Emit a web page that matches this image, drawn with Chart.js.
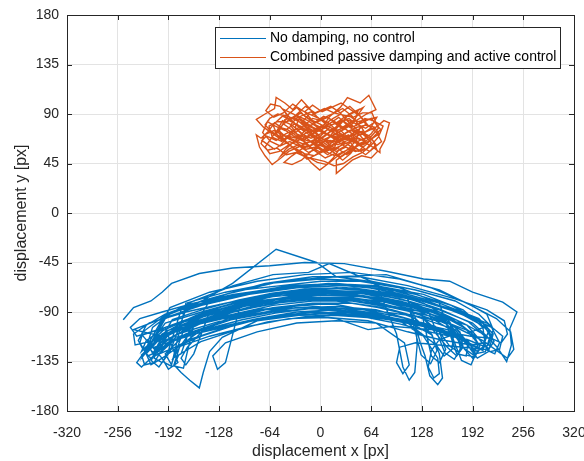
<!DOCTYPE html>
<html>
<head>
<meta charset="utf-8">
<script src="https://cdn.jsdelivr.net/npm/chart.js@4"></script>
<style>
  html, body { margin: 0; padding: 0; background: #fff; }
  #wrap { width: 584px; height: 461px; }
</style>
</head>
<body>
<div id="wrap"><canvas id="c" width="584" height="461"></canvas></div>
<script>
// tick labels
const xTicks = [-320, -256, -192, -128, -64, 0, 64, 128, 192, 256, 320];
const yTicks = [-180, -135, -90, -45, 0, 45, 90, 135, 180];

const seriesNames = ["No damping, no control", "Combined passive damping and active control"];
const seriesColors = ["#0072BD", "#D95319"];

// blue trajectory as [x, y]
const bluePoints = [
  [-249,-97],[-236,-86],[-214,-80],[-200,-72],[-188,-64],[-153,-55],[-111,-50],[-64,-48],[-20,-45],[30,-46],[83,-53],[130,-60],[163,-62],[192,-72],[230,-81],[248,-90],[239,-105],[241,-120],[235,-135],[223,-122],[210,-112],
  [180,-100],[150,-90],[100,-80],[40,-74],[-20,-75],[-80,-80],[-128,-88],[-170,-98],[-200,-110],[-215,-122],[-226,-129],[-222,-138],[-210,-136],[-200,-124],
  [-185,-112],[-150,-100],[-110,-94],[-60,-86],[-10,-82],[40,-82],[90,-88],[120,-96],[140,-110],[150,-128],[154,-150],[148,-156],[138,-148],[132,-130],[126,-118],
  [110,-78],[60,-62],[20,-58],[-5,-45],[-56,-33],[-111,-64],[-150,-80],[-190,-92],[-212,-104],[-218,-118],[-208,-124],
  [-196,-112],[-176,-100],[-128,-86],[-64,-74],[0,-70],[64,-72],[128,-80],[172,-90],[205,-100],[214,-112],[208,-126],[196,-128],[186,-116],
  [160,-106],[110,-98],[50,-92],[-27,-93],[-80,-98],[-124,-113],[-140,-126],[-148,-145],[-153,-159],[-165,-152],[-176,-145],[-185,-138],[-178,-122],[-166,-110],
  [-140,-80],[-96,-73],[-40,-66],[20,-64],[80,-68],[110,-78],[120,-96],[122,-120],[119,-145],[112,-152],[104,-140],[100,-125],[96,-110],
  [70,-64],[11,-46],[-15,-54],[-60,-56],[-110,-66],[-160,-80],[-200,-95],[-224,-108],[-228,-118],[-218,-130],[-206,-126],
  [-190,-108],[-150,-98],[-100,-88],[-40,-80],[20,-77],[80,-80],[140,-90],[175,-100],[195,-112],[200,-125],[192,-132],[182,-124],
  [150,-92],[90,-80],[30,-74],[-30,-75],[-90,-82],[-140,-92],[-185,-106],[-204,-120],[-210,-132],[-200,-136],[-190,-126],
  [-170,-88],[-130,-76],[-70,-64],[-10,-58],[50,-58],[110,-66],[170,-78],[210,-88],[232,-98],[236,-110],[228,-118],[216,-114],
  [190,-112],[140,-106],[90,-103],[60,-106],[20,-96],[-40,-92],[-100,-100],[-150,-112],[-190,-124],[-210,-130],[-216,-122],
  [-196,-96],[-120,-74],[-50,-62],[20,-58],[83,-56],[140,-68],[185,-82],[210,-92],[218,-106],[212,-120],[200,-124],
  [170,-110],[150,-115],[140,-125],[136,-140],[143,-150],[150,-146],[148,-132],[130,-112],[100,-98],[40,-88],[-20,-84],[-80,-88],[-140,-98],[-200,-112],
  [-236,-106],[-200,-96],[-150,-84],[-90,-74],[-30,-68],[30,-66],[90,-70],[150,-82],[200,-96],[218,-110],[212,-126],[198,-132],
  [170,-106],[120,-94],[60,-88],[0,-86],[-60,-90],[-120,-98],[-170,-110],[-196,-120],[-214,-132],[-226,-140],[-232,-136],[-220,-124],
  [-196,-100],[-150,-90],[-100,-80],[-40,-72],[20,-68],[80,-72],[130,-82],[160,-94],[168,-110],[166,-124],[156,-130],[146,-120],
  [110,-100],[70,-94],[30,-90],[-20,-86],[-70,-88],[-118,-96],[-150,-108],[-168,-122],[-176,-132],[-170,-138],[-160,-128],
  [-140,-90],[-80,-78],[-20,-70],[40,-68],[100,-74],[160,-86],[210,-100],[230,-112],[226,-124],[214,-126],
  [185,-102],[130,-90],[70,-82],[10,-78],[-50,-80],[-110,-86],[-170,-98],[-214,-108],[-232,-112],[-240,-104],[-228,-96],
  [-200,-90],[-160,-82],[-110,-74],[-50,-68],[10,-64],[70,-66],[130,-74],[180,-88],[205,-104],[208,-120],[198,-126],
  [175,-112],[130,-100],[80,-94],[20,-88],[-40,-86],[-100,-94],[-150,-106],[-176,-120],[-186,-132],[-176,-128],
  [-160,-96],[-110,-84],[-60,-76],[0,-72],[60,-72],[110,-80],[150,-92],[176,-108],[180,-122],[172,-130],[160,-122],
  [130,-96],[80,-86],[20,-80],[-40,-78],[-100,-82],[-150,-92],[-196,-104],[-220,-116],[-226,-126],[-214,-118],
  [-190,-86],[-140,-72],[-80,-62],[-20,-56],[40,-54],[100,-60],[150,-70],[190,-84],[222,-96],[240,-108],[244,-124],[236,-132],
  [205,-116],[160,-100],[110,-92],[60,-84],[0,-78],[-60,-82],[-110,-90],[-160,-102],[-196,-116],[-204,-126],
  [-210,-122],[-160,-110],[-110,-102],[-60,-94],[-10,-90],[40,-91],[90,-96],[140,-104],[180,-116],[196,-128],[190,-138],[178,-134],
  [165,-110],[120,-98],[70,-88],[20,-85],[-30,-86],[-80,-92],[-130,-99],[-180,-110],[-206,-122],[-214,-134],[-204,-140],[-194,-130],
  [-176,-88],[-128,-79],[-80,-72],[-30,-66],[20,-65],[70,-67],[120,-74],[165,-84],[196,-96],[212,-108],[206,-118],
  [190,-120],[150,-115],[110,-108],[60,-98],[10,-95],[-40,-96],[-90,-103],[-140,-112],[-180,-122],[-200,-132],[-192,-142],[-180,-136],
  [-196,-104],[-150,-94],[-100,-84],[-50,-78],[0,-75],[50,-76],[100,-82],[140,-92],[170,-104],[186,-118],[184,-130],[172,-128],
  [150,-82],[100,-68],[50,-62],[0,-62],[-50,-66],[-100,-70],[-150,-80],[-196,-92],[-220,-102],[-230,-116],[-224,-124],
  [-204,-112],[-160,-102],[-110,-94],[-60,-86],[-10,-82],[40,-82],[90,-88],[130,-96],[150,-108],[158,-124],[150,-136],[140,-130],
  [128,-92],[80,-84],[30,-78],[-20,-79],[-70,-82],[-120,-92],[-170,-104],[-210,-116],[-234,-120],[-236,-110],
  [-216,-100],[-170,-90],[-120,-82],[-70,-75],[-20,-69],[30,-68],[80,-72],[130,-80],[180,-92],[216,-104],[226,-118],[220,-128],[208,-124],
  [180,-122],[150,-120],[120,-118],[100,-122],[96,-136],[104,-146],[112,-138],[106,-118],[70,-100],[20,-98],[-30,-100],[-80,-108],[-120,-118],[-136,-130],[-130,-142],[-120,-136],
  [-100,-80],[-50,-74],[0,-72],[50,-72],[100,-78],[150,-88],[192,-100],[210,-112],[204,-124],
  [170,-112],[120,-100],[70,-92],[20,-88],[-30,-90],[-80,-96],[-130,-104],[-176,-114],[-196,-128],[-188,-138],
  [-170,-82],[-120,-72],[-64,-64],[0,-60],[64,-62],[120,-70],[170,-80],[200,-92],[214,-102],
  [190,-108],[140,-94],[90,-86],[40,-80],[-10,-80],[-60,-84],[-110,-92],[-160,-100],[-200,-112],[-220,-128],[-214,-138],[-200,-132],
  [-225,-111],[-183,-101],[-141,-93],[-99,-85],[-57,-79],[-15,-75],[27,-75],[69,-77],[111,-83],[153,-93],[183,-105],[199,-119],[193,-129],[181,-123],
  [163,-99],[121,-87],[79,-79],[37,-73],[-5,-71],[-47,-73],[-89,-79],[-131,-89],[-173,-101],[-207,-115],[-221,-127],[-213,-133],
  [-193,-107],[-151,-97],[-109,-89],[-67,-83],[-25,-79],[17,-79],[59,-81],[101,-87],[143,-97],[171,-109],[177,-123],[169,-133],[157,-127],
  [137,-91],[95,-81],[53,-75],[11,-71],[-31,-71],[-73,-75],[-115,-83],[-157,-93],[-199,-107],[-219,-121],[-211,-127],
  [-187,-97],[-145,-87],[-103,-79],[-61,-73],[-19,-69],[23,-69],[65,-71],[107,-77],[149,-87],[187,-99],[209,-113],[205,-125],[193,-121],
  [171,-113],[129,-103],[87,-97],[45,-93],[3,-91],[-39,-93],[-81,-97],[-123,-105],[-165,-115],[-191,-125],[-199,-135],[-189,-139],
  [-171,-103],[-129,-93],[-87,-85],[-45,-81],[-3,-77],[39,-77],[81,-81],[123,-89],[159,-101],[179,-115],[175,-127],[163,-121],
  [145,-103],[103,-95],[61,-89],[19,-83],[-23,-83],[-65,-87],[-107,-95],[-149,-105],[-187,-117],[-205,-129],[-197,-123],
  [-183,-113],[-141,-105],[-99,-97],[-57,-91],[-15,-87],[27,-87],[69,-91],[111,-99],[141,-111],[147,-125],[139,-137],[127,-129],
  [113,-89],[71,-81],[29,-77],[-13,-77],[-55,-79],[-97,-85],[-139,-95],[-181,-107],[-211,-119],[-225,-131],[-219,-121],
  [-197,-93],[-155,-83],[-113,-77],[-71,-71],[-29,-67],[13,-65],[55,-67],[97,-73],[139,-81],[181,-93],[211,-105],[219,-117],[213,-123],
  [185,-115],[143,-109],[101,-101],[59,-95],[17,-93],[-25,-95],[-67,-99],[-109,-107],[-151,-117],[-179,-129],[-185,-139],[-173,-141],
  [-159,-99],[-117,-89],[-75,-81],[-33,-75],[9,-73],[51,-73],[93,-79],[135,-87],[167,-97],[191,-109],[201,-121],[195,-131],[183,-129]
];

// orange trajectory as [x, y]
const orangePoints = [
  [0,70],[12,78],[25,72],[18,60],[5,55],[-8,62],[-20,70],[-32,78],[-25,88],[-12,92],[0,85],[15,90],[28,95],[40,88],[50,78],[45,66],[35,58],[22,52],[10,45],[-1,39],
  [-12,46],[-22,55],[-35,60],[-48,66],[-60,72],[-72,78],[-81,85],[-70,90],[-58,95],[-56,105],[-45,100],[-35,94],[-24,103],[-15,96],[-5,88],[8,80],[20,74],[32,80],[45,84],[58,90],
  [70,94],[61,107],[50,100],[34,105],[25,96],[12,88],[2,78],[-10,72],[-22,66],[-34,70],[-46,76],[-58,82],[-66,74],[-75,68],[-81,71],[-77,60],[-70,52],[-61,44],[-50,50],[-40,56],
  [-28,60],[-16,64],[-4,68],[10,66],[22,62],[34,66],[46,70],[58,74],[70,78],[80,84],[87,82],[84,74],[81,66],[75,58],[75,55],[66,60],[56,64],[44,60],[32,54],[20,48],
  [20,36],[30,42],[40,48],[52,52],[64,50],[72,56],[66,66],[54,72],[42,76],[30,72],[18,68],[6,72],[-6,76],[-18,80],[-30,84],[-42,88],[-54,90],[-64,86],[-70,80],[-62,74],
  [-52,70],[-42,64],[-32,58],[-20,54],[-8,52],[4,58],[14,64],[24,70],[36,74],[48,68],[60,64],[68,70],[76,76],[66,84],[56,86],[46,80],[36,86],[26,84],[14,80],[2,84],
  [-10,86],[-20,80],[-30,74],[-40,70],[-50,62],[-58,58],[-66,62],[-74,66],[-68,70],[-56,66],[-44,72],[-32,76],[-20,76],[-8,70],[4,64],[16,58],[28,62],[40,66],[52,60],[62,56],
  [70,62],[62,70],[50,74],[38,70],[26,66],[14,70],[2,74],[-10,78],[-22,84],[-34,90],[-46,94],[-40,84],[-28,80],[-16,74],[-4,66],[8,60],[20,56],[32,60],[44,56],[56,58],
  [48,64],[36,68],[24,76],[12,74],[0,68],[-12,62],[-24,58],[-36,52],[-46,46],[-36,44],[-24,48],[-12,56],[0,62],[12,70],[24,80],[36,90],[48,94],[42,82],[30,76],[18,72],
  [6,66],[-6,60],[-18,58],[-30,64],[-42,68],[-54,76],[-48,84],[-36,80],[-24,72],[-12,68],[0,72],[10,76],
  [22,70],[30,64],[20,58],[8,64],[-4,72],[-16,78],[-26,70],[-18,62],[-6,56],[6,50],[18,54],[28,48],[38,54],[46,62],[40,72],[28,78],[16,84],[4,88],[-8,82],[-20,88],
  [-30,96],[-40,90],[-48,80],[-56,72],[-46,66],[-36,60],[-26,54],[-14,50],[-4,46],[8,44],[16,50],[24,58],[34,62],[44,68],[54,66],[64,72],[72,80],[64,86],[52,82],[40,78],
  [28,84],[16,76],[6,70],[-6,64],[-18,66],[-30,70],[-42,76],[-52,78],[-62,68],[-70,60],[-64,54],[-52,56],[-40,62],[-28,66],[-16,70],[-4,74],[8,78],[20,82],[32,88],[44,92],
  [54,96],[44,86],[32,78],[20,72],[8,68],[-4,64],[-16,60],[-28,62],[-40,58],[-50,52],[-44,58],[-32,66],[-20,72],[-8,76],[4,80],[16,86],[26,90],[36,82],[46,76],[56,70],
  [64,64],[58,58],[48,56],[36,58],[24,64],[12,66],[0,64],[-12,70],[-24,76],[-36,84],[-48,88],[-60,80],[-54,70],[-42,70],[-30,68],[-18,64],[-6,66],[6,60],[18,62],[30,70],
  [42,64],[54,62],[66,68],[74,72],[68,78],[56,80],[44,74],[32,68],[20,66],[8,72],[-4,78],[-16,84],[-28,88],[-38,80],[-30,72],[-18,68],[-6,62],[6,56],[18,52],[30,56],
  [42,60],[34,68],[22,74],[10,82],[-2,86],[-14,90],[-24,82],[-14,76],[-2,70],[10,64],[22,68],[34,74],[46,78],[58,80],[50,88],[38,94],[26,100],[14,96],[2,92],[-10,98],
  [-20,92],[-10,84],[2,80],[14,74],[26,70],[38,66],
  [11,71],[23,65],[35,71],[47,65],[59,69],[51,79],[39,83],[27,77],[15,83],[3,77],[-9,81],[-21,75],[-33,81],[-45,75],[-57,79],[-67,83],[-73,73],[-63,65],[-51,61],[-39,65],
  [-27,61],[-15,55],[-3,59],[9,53],[21,59],[33,53],[45,59],[57,53],[67,59],[77,65],[71,73],[61,79],[49,89],[37,97],[25,91],[13,97],[1,93],[-11,89],[-23,93],[-35,99],
  [-47,91],[-59,87],[-69,93],[-63,99],[-51,97],[-39,87],[-27,85],[-15,79],[-3,83],[9,87],[21,81],[33,85],[45,81],[57,77],[69,83],[79,79],[73,69],[63,61],[53,55],[41,51],
  [29,45],[17,43],[5,47],[-7,49],[-19,51],[-31,55],[-43,53],[-55,59],[-67,57],[-75,63],[-71,71],[-59,75],[-47,71],[-35,67],[-23,63],[-11,65],[1,61],[13,57],[25,51],[37,57],
  [49,63],[61,67],[73,77],[65,91],[53,91],[41,87],[29,89],[17,91],[5,95],[-7,91],[-19,97],[-31,89],[-43,83],[-55,83],[-65,79],[-61,69],[-49,65],[-37,73],[-25,79],[-13,73],
  [-1,77],[11,81],[23,87],[35,79],[47,73],[59,63],[49,57],[37,61],[25,67],[13,61],[1,55],[-11,59],[-23,67],[-35,75],[-47,81],[-37,85],[-25,91],[-13,85],[-1,81],[11,75],
  [23,79],[35,89],[47,83],[59,85],[71,87],[63,77],[51,71],[39,75],[27,71],[15,65],[3,67],[-9,71],[-21,79],[-33,87],[-45,85],[-53,73],[-41,63],[-29,57],[-17,49],[-5,53],
  [7,57],[19,63],[31,67],[43,71],[55,75]
];

const textColor = "#262626";
const fontFamily = "'Liberation Sans', Arial, sans-serif";

// box around the axes, inward ticks and a MATLAB-style legend
const matlabFrame = {
  id: "matlabFrame",
  afterDraw(chart) {
    const { ctx, chartArea: a, scales } = chart;
    ctx.save();
    ctx.strokeStyle = textColor;
    ctx.lineWidth = 1;
    ctx.strokeRect(Math.round(a.left) + 0.5, Math.round(a.top) + 0.5,
      Math.round(a.right - a.left), Math.round(a.bottom - a.top));
    ctx.beginPath();
    xTicks.forEach((v) => {
      const px = Math.round(scales.x.getPixelForValue(v)) + 0.5;
      ctx.moveTo(px, a.bottom); ctx.lineTo(px, a.bottom - 5);
      ctx.moveTo(px, a.top); ctx.lineTo(px, a.top + 5);
    });
    yTicks.forEach((v) => {
      const py = Math.round(scales.y.getPixelForValue(v)) + 0.5;
      ctx.moveTo(a.left, py); ctx.lineTo(a.left + 5, py);
      ctx.moveTo(a.right, py); ctx.lineTo(a.right - 5, py);
    });
    ctx.stroke();

    // legend
    const lx = 215, ly = 27, lw = 345, lh = 41;
    ctx.fillStyle = "#fff";
    ctx.fillRect(lx, ly, lw, lh);
    ctx.strokeStyle = textColor;
    ctx.strokeRect(lx + 0.5, ly + 0.5, lw, lh);
    ctx.font = "14px " + fontFamily;
    ctx.textBaseline = "middle";
    chart.data.datasets.forEach((ds, i) => {
      const y = ly + 11 + i * 19;
      ctx.strokeStyle = ds.borderColor;
      ctx.beginPath();
      ctx.moveTo(lx + 5, y + 0.5); ctx.lineTo(lx + 51, y + 0.5);
      ctx.stroke();
      ctx.fillStyle = "#000";
      ctx.fillText(ds.label, lx + 55, y);
    });
    ctx.restore();
  }
};

const toXY = (pts) => pts.map(([x, y]) => ({ x, y }));

new Chart(document.getElementById("c"), {
  type: "scatter",
  data: {
    datasets: [
      { label: seriesNames[0], data: toXY(bluePoints), borderColor: seriesColors[0], showLine: true, pointRadius: 0, borderWidth: 1.4, tension: 0 },
      { label: seriesNames[1], data: toXY(orangePoints), borderColor: seriesColors[1], showLine: true, pointRadius: 0, borderWidth: 1.4, tension: 0 }
    ]
  },
  options: {
    responsive: false,
    animation: false,
    layout: { padding: { top: 15, right: 10, left: 0, bottom: 0 } },
    plugins: { legend: { display: false }, tooltip: { enabled: false } },
    scales: {
      x: {
        type: "linear", min: -320, max: 320,
        afterBuildTicks: (s) => { s.ticks = xTicks.map((v) => ({ value: v })); },
        afterFit: (s) => { s.height = 50; s.paddingLeft = 0; s.paddingRight = 0; },
        grid: { color: "#e3e3e3", drawTicks: false },
        border: { display: false },
        ticks: { color: textColor, font: { size: 14, family: fontFamily }, padding: 14, maxRotation: 0 },
        title: { display: true, text: "displacement x [px]", color: textColor, font: { size: 16, family: fontFamily }, padding: { top: 0, bottom: 0 } }
      },
      y: {
        type: "linear", min: -180, max: 180,
        afterBuildTicks: (s) => { s.ticks = yTicks.map((v) => ({ value: v })); },
        afterFit: (s) => { s.width = 67; s.paddingTop = 0; s.paddingBottom = 0; },
        grid: { color: "#e3e3e3", drawTicks: false },
        border: { display: false },
        ticks: { color: textColor, font: { size: 14, family: fontFamily }, padding: 8 },
        title: { display: true, text: "displacement y [px]", color: textColor, font: { size: 16, family: fontFamily }, padding: { top: 12, bottom: 0 } }
      }
    }
  },
  plugins: [matlabFrame]
});
</script>
</body>
</html>
